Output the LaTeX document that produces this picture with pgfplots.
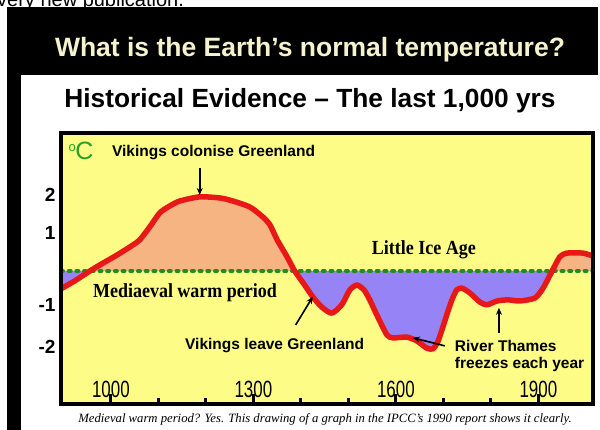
\documentclass[border=0pt]{standalone}
\usepackage{fontspec}
\setmainfont{Liberation Sans}
\newfontfamily\serifx{Liberation Serif}
\usepackage{pgfplots}
\usepackage{pgfplotstable}
\pgfplotsset{compat=1.18}
\usetikzlibrary{arrows.meta}
\definecolor{titlecream}{RGB}{245,243,205}
\definecolor{plotyellow}{RGB}{252,252,135}
\definecolor{fillorange}{RGB}{245,180,130}
\definecolor{fillpurple}{RGB}{150,132,246}
\definecolor{curvered}{RGB}{232,24,24}
\definecolor{dotgreen}{RGB}{34,140,30}
\definecolor{cgreen}{RGB}{40,160,40}

\pgfplotstableread{
year temp
895 -0.47
924 -0.26
956 0.00
977 0.16
1013 0.42
1046 0.68
1061 0.82
1082 1.16
1103 1.53
1124 1.71
1145 1.84
1187 1.95
1230 1.92
1257 1.84
1293 1.68
1320 1.42
1335 1.21
1350 0.82
1371 0.37
1387 0.00
1408 -0.37
1425 -0.68
1444 -0.95
1465 -1.11
1486 -0.89
1503 -0.50
1518 -0.37
1533 -0.50
1545 -0.76
1560 -1.16
1581 -1.68
1594 -1.76
1623 -1.74
1644 -1.84
1665 -2.03
1678 -2.05
1688 -1.87
1697 -1.55
1707 -1.16
1718 -0.76
1728 -0.50
1739 -0.45
1756 -0.58
1777 -0.82
1792 -0.89
1813 -0.79
1836 -0.76
1861 -0.79
1893 -0.71
1910 -0.45
1929 0.00
1945 0.37
1960 0.47
1994 0.47
2015 0.39
}\curvedata

\begin{document}
\begin{tikzpicture}
\fill[white] (0pt,0pt) rectangle (600pt,430pt);
\node[anchor=base west, inner sep=0, font=\fontsize{20}{20}\selectfont] at (-3pt,423pt) {very new publication.};
\fill[black] (7pt,0pt) rectangle (598pt,423pt);
\fill[white] (21pt,0pt) rectangle (600pt,355pt);
\node[anchor=base, inner sep=0, text=titlecream, font=\bfseries\fontsize{26.5}{26.5}\selectfont] at (310pt,373pt) {What is the Earth’s normal temperature?};
\node[anchor=base, inner sep=0, font=\bfseries\fontsize{26.3}{26.3}\selectfont] at (310pt,322pt) {Historical Evidence – The last 1,000 yrs};
\begin{axis}[
  at={(61pt,26pt)}, anchor=south west,
  width=532pt, height=271pt, scale only axis,
  xmin=895, xmax=2015, ymin=-3.5, ymax=3.63,
  axis background/.style={fill=plotyellow},
  axis line style={line width=4.5pt, black},
  tick pos=left,
  tick align=inside,
  xtick={1000,1300,1600,1900},
  xticklabels={\scalebox{0.72}[1]{1000},\scalebox{0.72}[1]{1300},\scalebox{0.72}[1]{1600},\scalebox{0.72}[1]{1900}},
  minor xtick={1100,1200,1400,1500,1700,1800},
  major tick length=10pt, minor tick length=6pt,
  xtick style={line width=3pt, black},
  xticklabel style={font=\fontsize{23.5}{23.5}\selectfont, anchor=center, yshift=15pt},
  ytick={-2,-0.9,1,2},
  yticklabels={-2,-1,1,2},
  ytick style={draw=none},
  yticklabel style={font=\bfseries\fontsize{19}{19}\selectfont, xshift=-2pt},
]
\addplot[fill=fillorange, draw=none] table[x=year, y expr={max(\thisrow{temp},0)}]{\curvedata} \closedcycle;
\addplot[fill=fillpurple, draw=none] table[x=year, y expr={min(\thisrow{temp},0)}]{\curvedata} \closedcycle;
\addplot[dotgreen, line width=4pt, line cap=round, dash pattern=on 2pt off 5.7pt] coordinates {(895,0) (2015,0)};
\addplot[curvered, line width=5.5pt, smooth, tension=0.4, line join=round] table[x=year,y=temp]{\curvedata};
\draw[line width=4.5pt, black] (rel axis cs:0,0) rectangle (rel axis cs:1,1);

\node[inner sep=0, text=cgreen, font=\fontsize{25}{25}\selectfont] at (axis cs:937,3.16) {\raisebox{0.3em}{\fontsize{13}{13}\selectfont o}\kern-0.5pt C};
\node[anchor=west, inner sep=0, font=\bfseries\fontsize{15.5}{15.5}\selectfont] at (axis cs:1002,3.11) {Vikings colonise Greenland};
\draw[-{Stealth[length=7pt,width=6pt]}, line width=1.6pt] (axis cs:1187,2.71) -- (axis cs:1187,2.0);
\node[inner sep=0, font=\serifx\bfseries\fontsize{20}{20}\selectfont] at (axis cs:1659,0.55) {\scalebox{0.9}[1]{Little Ice Age}};
\node[anchor=west, inner sep=0, font=\serifx\bfseries\fontsize{20}{20}\selectfont] at (axis cs:962,-0.58) {\scalebox{0.9}[1]{Mediaeval warm period}};
\node[anchor=west, inner sep=0, font=\bfseries\fontsize{15.5}{15.5}\selectfont] at (axis cs:1156,-1.95) {Vikings leave Greenland};
\draw[-{Stealth[length=7pt,width=6pt]}, line width=1.6pt] (axis cs:1389,-1.42) -- (axis cs:1425,-0.68);
\node[anchor=west, inner sep=0, font=\bfseries\fontsize{15.5}{15.5}\selectfont] at (axis cs:1724,-1.97) {River Thames};
\node[anchor=west, inner sep=0, font=\bfseries\fontsize{15.5}{15.5}\selectfont] at (axis cs:1724,-2.45) {freezes each year};
\draw[-{Stealth[length=7pt,width=6pt]}, line width=1.6pt] (axis cs:1703,-1.97) -- (axis cs:1636,-1.76);
\draw[-{Stealth[length=7pt,width=6pt]}, line width=1.6pt] (axis cs:1817,-1.63) -- (axis cs:1817,-0.97);
\end{axis}
\node[anchor=base, inner sep=0, font=\serifx\itshape\fontsize{12.7}{12.7}\selectfont] at (325pt,7pt) {Medieval warm period? Yes. This drawing of a graph in the IPCC’s 1990 report shows it clearly.};
\pgfresetboundingbox
\useasboundingbox (0pt,0pt) rectangle (600pt,430pt);
\end{tikzpicture}
\end{document}
